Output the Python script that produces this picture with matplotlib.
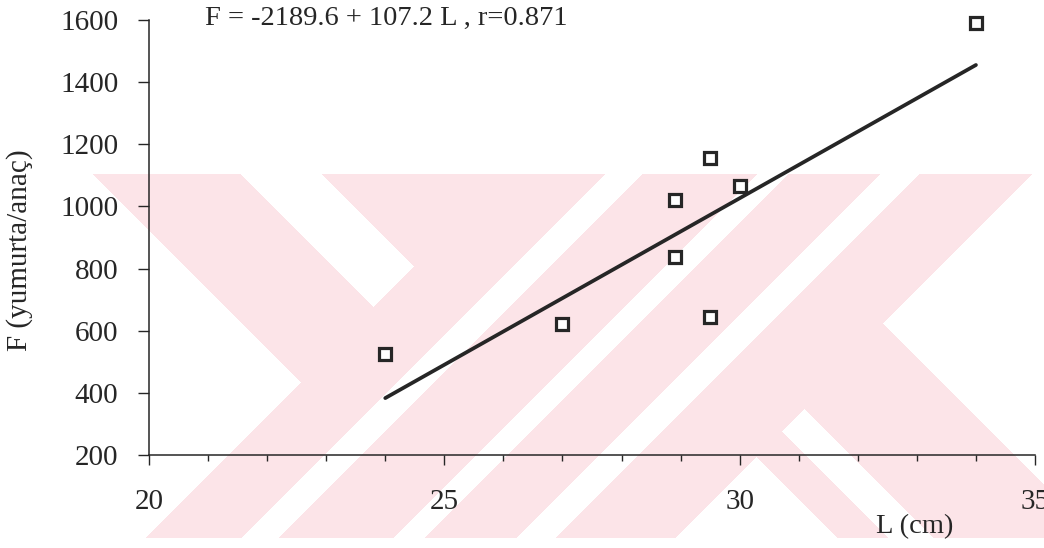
import numpy as np
import matplotlib
matplotlib.use("Agg")
import matplotlib.pyplot as plt
from matplotlib.ticker import MultipleLocator

# data
L_cm = [24.0, 27.0, 28.9, 28.9, 29.5, 29.5, 30.0, 34.0]
F_eggs = [525, 622, 1021, 837, 1156, 644, 1066, 1590]

# regression given on the chart
intercept = -2189.6
slope = 107.2
fit_range = [24.0, 34.0]

x_ticks = [20, 25, 30, 35]
y_ticks = [200, 400, 600, 800, 1000, 1200, 1400, 1600]

W, H = 1044, 548
INK = "#262626"
PINK = (252 / 255, 228 / 255, 232 / 255)

plt.rcParams["font.family"] = ["Liberation Serif", "DejaVu Serif"]

fig = plt.figure(figsize=(W / 100, H / 100), dpi=100)


def watermark():
    # faint striped background logo of the scanned page (pixel space, y down)
    yy, xx = np.mgrid[0:H, 0:W]
    u = xx - yy
    v = xx + yy
    inside = (yy >= 174) & (yy <= 537)
    white = (
        ((u < -81) & (v < 683))
        | ((u > 66) & (u < 148) & (v < 680))
        | ((v > 778) & (v < 816))
        | ((v > 930) & (v < 962))
        | ((v > 1053) & (v < 1093))
        | ((v > 1205) & (u > 559))
        | ((v > 1212) & (u < 300))
        | ((u > 350) & (u < 396) & (v > 1212))
    )
    mask = inside & ~white
    img = np.ones((H, W, 4))
    img[..., :3] = PINK
    img[..., 3] = mask.astype(float)
    fig.figimage(img, 0, 0, origin="upper", zorder=-10)


watermark()

ax = fig.add_axes([149 / W, 1 - 455 / H, (1035 - 149) / W, (455 - 20) / H])
ax.set_zorder(5)
ax.patch.set_visible(False)

fit_y = [intercept + slope * x for x in fit_range]
ax.plot(fit_range, fit_y, color=INK, linewidth=2.7, solid_capstyle="round", zorder=2)
ax.plot(L_cm, F_eggs, linestyle="none", marker="s", markersize=8.5,
        markerfacecolor="white", markeredgecolor=INK, markeredgewidth=2.3,
        zorder=3, clip_on=False)

ax.set_xlim(20, 35)
ax.set_ylim(200, 1600)
ax.set_xticks(x_ticks)
ax.xaxis.set_minor_locator(MultipleLocator(1))
ax.set_yticks(y_ticks)

ax.spines[["top", "right"]].set_visible(False)
for side in ["left", "bottom"]:
    ax.spines[side].set_color(INK)
    ax.spines[side].set_linewidth(1.1)

ax.tick_params(axis="y", direction="out", length=8, width=1, color=INK,
               pad=14, labelsize=21, labelcolor=INK)
ax.tick_params(axis="x", which="major", direction="out", length=7.5, width=1,
               color=INK, pad=17, labelsize=21, labelcolor=INK)
ax.tick_params(axis="x", which="minor", direction="out", length=4.5, width=1,
               color=INK)

ax.set_ylabel("F (yumurta/anaç)", fontsize=21, color=INK)
ax.yaxis.set_label_coords((20 - 149) / 886, (455 - 250) / 435)
ax.yaxis.label.set_va("center")

ax.set_xlabel("L (cm)", fontsize=20.5, color=INK)
ax.xaxis.set_label_coords((915 - 149) / 886, -(527 - 455) / 435)
ax.xaxis.label.set_va("center")

ax.text(20.95, 1605, "F = -2189.6 + 107.2 L , r=0.871", fontsize=20.5,
        color=INK, ha="left", va="center", clip_on=False)

fig.savefig("out.png", dpi=100)
